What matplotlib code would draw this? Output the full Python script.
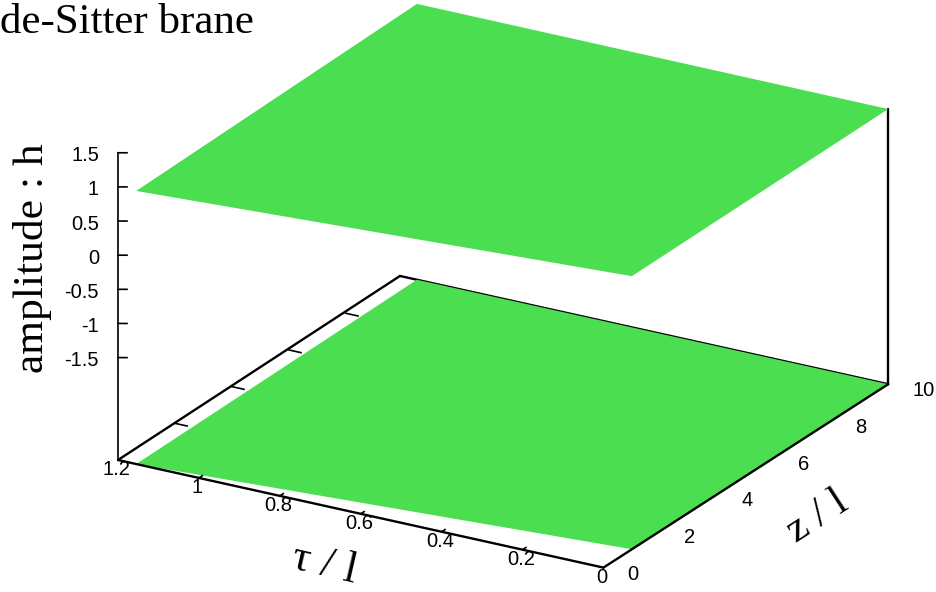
import matplotlib
matplotlib.use("Agg")
import matplotlib.pyplot as plt
import numpy as np
from mpl_toolkits.mplot3d import proj3d

W, H = 936, 592

# axis ranges
tau_lim = (1.2, 0)
z_lim = (0, 10)
h_lim = (-3.0, 1.5)

# ticks
tau_ticks = [1.2, 1, 0.8, 0.6, 0.4, 0.2, 0]
tau_labels = ["1.2", "1", "0.8", "0.6", "0.4", "0.2", "0"]
z_ticks = [0, 2, 4, 6, 8, 10]
z_labels = ["0", "2", "4", "6", "8", "10"]
h_ticks = [1.5, 1, 0.5, 0, -0.5, -1, -1.5]
h_labels = ["1.5", "1", "0.5", "0", "-0.5", "-1", "-1.5"]

# the two flat sheets, same footprint, corners
sheet_tau = np.array([[1.155, 1.165], [0.0, 0.0]])
sheet_z = np.array([[0.0, 10.0], [1.0, 10.0]])
upper_h = np.array([[1.0, 1.04], [1.0, 1.03]])
lower_h = -3.0

green = "#4bde50"
sans = "Liberation Sans"
serif = "Liberation Serif"

fig = plt.figure(figsize=(W / 100, H / 100), dpi=100, facecolor="white")
ax = fig.add_axes([0, 0, 1, 1], projection="3d", proj_type="ortho", computed_zorder=False)
ax.set_axis_off()
ax.set_autoscale_on(False)
ax.set_xlim(*tau_lim, view_margin=0)
ax.set_ylim(*z_lim, view_margin=0)
ax.set_zlim(*h_lim, view_margin=0)
ax.view_init(elev=22.2, azim=-59.6)
ax.set_box_aspect((562.4, 562.4, 331.6))


def to_px(tau, z, h):
    x, y, _ = proj3d.proj_transform(tau, z, h, ax.get_proj())
    return ax.transData.transform((x, y))


def place(side, left, bottom):
    ax.set_position([left / W, bottom / H, side / W, side / H])
    ax.apply_aspect()


def label(tau, z, h, s, dx, dy, **kw):
    # tick label at a data point, nudged by some pixels
    px = to_px(tau, z, h)
    fig.text((px[0] + dx) / W, (px[1] - dy) / H, s, family=sans, fontsize=14.5, **kw)


# fit the box so that two floor corners land where they are in the picture
target_a = np.array([118, H - 460])
target_b = np.array([888, H - 382])
side = 800.0
place(side, 0, 0)
a = to_px(1.2, 0, h_lim[0])
b = to_px(0, 10, h_lim[0])
side *= np.linalg.norm(target_b - target_a) / np.linalg.norm(b - a)
place(side, 0, 0)
shift = target_a - to_px(1.2, 0, h_lim[0])
place(side, shift[0], shift[1])

line = dict(color="black", lw=1.7, clip_on=False, solid_capstyle="round")
thin = dict(color="black", lw=1.2, clip_on=False)
back_tau = 1.207

# back edge goes under the lower sheet
ax.plot([back_tau, 0], [10, 10], [lower_h, lower_h], zorder=1, **line)

ax.plot_surface(sheet_tau, sheet_z, np.full((2, 2), lower_h), color=green, shade=False,
                linewidth=0, rstride=1, cstride=1, zorder=2)

# floor edges and verticals
ax.plot([1.2, 0], [0, 0], [lower_h, lower_h], zorder=3, **line)
ax.plot([0, 0], [0, 10], [lower_h, lower_h], zorder=3, **line)
ax.plot([1.2, back_tau], [0, 10], [lower_h, lower_h], zorder=3, **line)
ax.plot([1.2, 1.2], [0, 0], [lower_h, h_lim[1]], zorder=3, **thin)
ax.plot([0, 0], [10, 10], [lower_h, upper_h[1, 1]], zorder=3, **line)

ax.plot_surface(sheet_tau, sheet_z, upper_h, color=green, shade=False,
                linewidth=0, rstride=1, cstride=1, zorder=4)

# ticks
for t in h_ticks:
    ax.plot([1.2, 1.2 - 0.0166], [0, 0.08], [t, t], zorder=3, **thin)
for t in z_ticks[1:-1]:
    ax.plot([1.2, 1.17], [t, t], [lower_h, lower_h], zorder=3, **thin)
for t in tau_ticks[1:-1]:
    ax.plot([t, t], [0, 0.12], [lower_h, lower_h], zorder=3, **thin)

# tick labels
for t, s in zip(h_ticks, h_labels):
    label(1.2, 0, t, s, -19, 1, ha="right", va="center_baseline")
for t, s in zip(tau_ticks, tau_labels):
    label(t, 0, lower_h, s, -1.5, 7.5, ha="center", va="center_baseline")
for t, s in zip(z_ticks, z_labels):
    label(0, t, lower_h, s, 24, 4.5, ha="left", va="center_baseline")

# titles
fig.text(0 / W, 1 - 33 / H, "de-Sitter brane", family=serif, fontsize=31, ha="left", va="baseline")
fig.text(33 / W, 1 - 258 / H, "amplitude : h", family=serif, fontsize=31.3, rotation=90,
         ha="center", va="center")
fig.text(324 / W, 1 - 565 / H, "τ / l", family=serif, fontsize=32.5, rotation=-13,
         ha="center", va="center")
fig.text(818 / W, 1 - 517 / H, "z / l", family=serif, fontsize=31, rotation=33,
         ha="center", va="center")

fig.savefig("out.png", dpi=100, facecolor="white")
